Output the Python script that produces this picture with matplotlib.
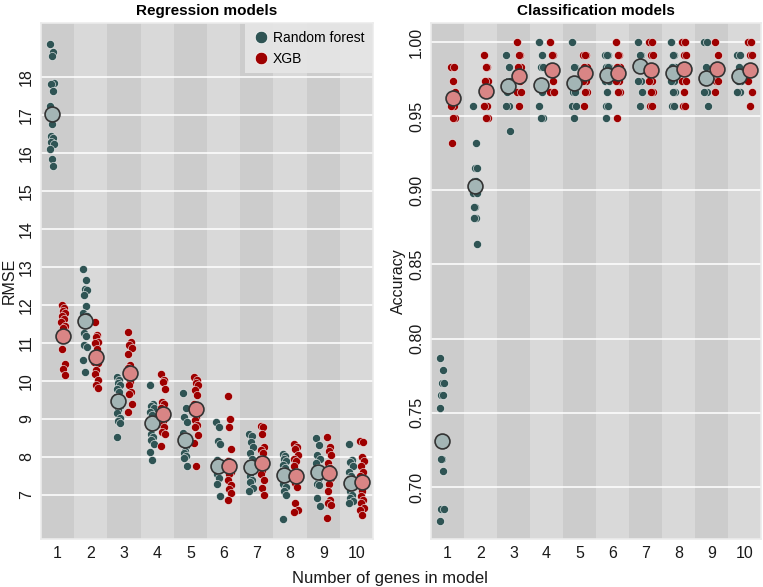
import matplotlib
matplotlib.use("Agg")
import matplotlib.pyplot as plt
from matplotlib.lines import Line2D
import numpy as np

plt.rcParams["font.family"] = ["Liberation Sans", "DejaVu Sans"]

genes = list(range(1, 11))

# RMSE per fold, by number of genes (regression models)
rmse_rf = [
    [18.88, 18.65, 18.55, 17.85, 17.82, 17.62, 17.24, 17.1, 16.75, 16.45, 16.4, 16.3, 16.24, 16.1, 15.85, 15.66],
    [12.94, 12.66, 12.42, 12.38, 12.26, 11.96, 11.8, 11.7, 11.47, 11.26, 11.18, 10.95, 10.9, 10.55, 10.24],
    [10.11, 10.03, 9.95, 9.89, 9.8, 9.72, 9.59, 9.35, 9.24, 9.15, 9.02, 8.95, 8.89, 8.53],
    [9.89, 9.4, 9.35, 9.28, 9.18, 9.1, 8.95, 8.85, 8.75, 8.6, 8.53, 8.45, 8.33, 8.12, 7.93],
    [9.68, 9.28, 9.05, 8.93, 8.62, 8.55, 8.4, 8.3, 8.15, 8.1, 8.02, 7.96, 7.77],
    [8.93, 8.8, 8.42, 8.33, 7.92, 7.85, 7.8, 7.7, 7.6, 7.55, 7.45, 7.3, 6.97],
    [8.6, 8.55, 8.38, 8.27, 8.1, 7.95, 7.85, 7.7, 7.6, 7.5, 7.4, 7.35, 7.18, 7.1],
    [8.08, 8.02, 7.95, 7.88, 7.78, 7.7, 7.62, 7.45, 7.35, 7.28, 7.2, 7.1, 7.0, 6.37],
    [8.5, 8.32, 8.05, 7.95, 7.85, 7.72, 7.55, 7.45, 7.35, 7.3, 7.25, 6.91, 6.72],
    [8.33, 7.92, 7.86, 7.75, 7.6, 7.5, 7.42, 7.3, 7.2, 7.1, 7.0, 6.92, 6.85, 6.8],
]
rmse_xgb = [
    [12.0, 11.92, 11.85, 11.78, 11.7, 11.62, 11.55, 11.45, 11.38, 10.85, 10.45, 10.32, 10.16],
    [11.56, 11.21, 11.15, 11.03, 10.99, 10.85, 10.51, 10.47, 10.29, 10.18, 10.03, 9.89, 9.81],
    [11.3, 11.02, 10.95, 10.86, 10.7, 10.42, 10.33, 10.1, 9.98, 9.9, 9.72, 9.65, 9.38, 9.19],
    [10.18, 10.02, 9.97, 9.8, 9.45, 9.38, 9.3, 9.02, 8.95, 8.85, 8.78, 8.65, 8.6, 8.28],
    [10.11, 10.03, 9.95, 9.89, 9.76, 9.63, 9.4, 9.15, 9.05, 8.97, 8.85, 8.8, 8.58, 8.36, 7.75],
    [9.6, 9.0, 8.8, 8.2, 7.9, 7.85, 7.7, 7.6, 7.55, 7.4, 7.25, 7.15, 7.05, 6.87],
    [8.82, 8.8, 8.6, 8.25, 8.18, 8.1, 7.95, 7.75, 7.62, 7.55, 7.4, 7.18, 7.0],
    [8.35, 8.27, 8.2, 8.06, 7.95, 7.9, 7.75, 7.6, 7.4, 7.32, 7.22, 6.78, 6.6, 6.56],
    [8.52, 8.25, 8.15, 8.05, 7.85, 7.7, 7.5, 7.45, 7.28, 7.1, 6.87, 6.78, 6.74, 6.39],
    [8.43, 8.38, 8.01, 7.9, 7.75, 7.6, 7.5, 7.26, 7.1, 6.96, 6.87, 6.8, 6.65, 6.6, 6.48],
]
rmse_rf_mean = [17.03, 11.57, 9.46, 8.89, 8.44, 7.75, 7.74, 7.52, 7.60, 7.32]
rmse_xgb_mean = [11.17, 10.64, 10.22, 9.13, 9.26, 7.77, 7.84, 7.51, 7.59, 7.35]

# accuracy per fold, by number of genes (classification models)
acc_rf = [
    [0.787, 0.779, 0.770, 0.770, 0.762, 0.762, 0.753, 0.728, 0.719, 0.719, 0.711, 0.685, 0.685, 0.677],
    [0.957, 0.932, 0.915, 0.915, 0.906, 0.906, 0.898, 0.898, 0.889, 0.889, 0.881, 0.881, 0.864],
    [0.991, 0.983, 0.974, 0.974, 0.966, 0.957, 0.957, 0.940],
    [1.0, 0.991, 0.983, 0.983, 0.974, 0.966, 0.957, 0.949, 0.949],
    [1.0, 0.983, 0.983, 0.974, 0.966, 0.966, 0.957, 0.957, 0.949],
    [0.991, 0.991, 0.991, 0.983, 0.983, 0.983, 0.974, 0.974, 0.966, 0.957, 0.957, 0.949],
    [1.0, 0.991, 0.991, 0.983, 0.983, 0.974, 0.974, 0.966, 0.957],
    [1.0, 0.991, 0.991, 0.983, 0.983, 0.974, 0.974, 0.966, 0.966, 0.957, 0.957],
    [1.0, 1.0, 0.983, 0.974, 0.974, 0.966, 0.966, 0.957],
    [0.991, 0.991, 0.983, 0.974, 0.974, 0.966, 0.966],
]
acc_xgb = [
    [0.983, 0.983, 0.974, 0.966, 0.957, 0.957, 0.957, 0.949, 0.949, 0.932],
    [0.991, 0.983, 0.983, 0.974, 0.974, 0.957, 0.957, 0.949, 0.949],
    [1.0, 0.991, 0.991, 0.983, 0.983, 0.974, 0.966, 0.966, 0.957],
    [1.0, 0.991, 0.991, 0.983, 0.983, 0.974, 0.966, 0.966],
    [0.991, 0.991, 0.991, 0.983, 0.983, 0.974, 0.974, 0.966, 0.966, 0.957],
    [1.0, 0.991, 0.991, 0.983, 0.983, 0.974, 0.974, 0.966, 0.966, 0.949],
    [1.0, 1.0, 0.991, 0.991, 0.983, 0.974, 0.974, 0.966, 0.966, 0.957, 0.957],
    [1.0, 1.0, 0.991, 0.991, 0.983, 0.983, 0.974, 0.974, 0.966, 0.957, 0.957],
    [1.0, 0.991, 0.983, 0.983, 0.974, 0.974, 0.966],
    [1.0, 1.0, 0.991, 0.991, 0.983, 0.983, 0.974, 0.966, 0.957],
]
acc_rf_mean = [0.731, 0.903, 0.970, 0.971, 0.9725, 0.978, 0.984, 0.979, 0.976, 0.977]
acc_xgb_mean = [0.962, 0.967, 0.977, 0.981, 0.979, 0.979, 0.981, 0.982, 0.982, 0.981]

RF_COL = "#2f5454"
XGB_COL = "#9e0000"
RF_MEAN = "#a3b5b5"
XGB_MEAN = "#d98585"
BAND_DARK = "#cccccc"
BAND_LIGHT = "#d9d9d9"
TXT = "#1a1a1a"

JIT = [-0.05, 0.03, -0.01, 0.06, -0.04, 0.02, -0.06, 0.05, 0.0, -0.03,
       0.04, -0.02, 0.06, -0.05, 0.01, 0.03, -0.04, 0.05, -0.01, 0.02]
OFF = 0.17


def draw_panel(ax, rf, xgb, rf_mean, xgb_mean):
    for g in genes:
        ax.axvspan(g - 0.5, g + 0.5, color=BAND_DARK if g % 2 else BAND_LIGHT,
                   zorder=0.2, lw=0)
    for vals, col, sign in ((rf, RF_COL, -1), (xgb, XGB_COL, 1)):
        for g, pts in zip(genes, vals):
            xs = [g + sign * OFF + JIT[i % len(JIT)] for i in range(len(pts))]
            ax.scatter(xs, pts, s=34, color=col, edgecolor="#f2f2f2",
                       linewidth=0.4, zorder=3)
    ax.scatter(np.array(genes) - OFF, rf_mean, s=115, color=RF_MEAN,
               edgecolor="#333333", linewidth=1.2, zorder=4)
    ax.scatter(np.array(genes) + OFF, xgb_mean, s=115, color=XGB_MEAN,
               edgecolor="#333333", linewidth=1.2, zorder=4)
    ax.set_xlim(0.5, 10.5)
    ax.set_xticks(genes)
    ax.yaxis.grid(True, color="white", lw=1.1)
    ax.set_axisbelow("line")
    ax.tick_params(length=0, labelsize=11.5, colors=TXT, pad=5)
    for lab in ax.get_yticklabels():
        lab.set_rotation(90)
        lab.set_va("center")
    for sp in ax.spines.values():
        sp.set_color("#ececec")
        sp.set_linewidth(1.2)


fig = plt.figure(figsize=(7.63, 5.87), dpi=100)
ax1 = fig.add_axes([41 / 763, 48 / 587, 332 / 763, 516 / 587])
ax2 = fig.add_axes([431 / 763, 48 / 587, 330 / 763, 516 / 587])

ax1.set_ylim(5.84, 19.42)
ax1.set_yticks(range(7, 19))
draw_panel(ax1, rmse_rf, rmse_xgb, rmse_rf_mean, rmse_xgb_mean)
ax1.set_ylabel("RMSE", fontsize=11.5, color=TXT, labelpad=2)
ax1.set_title("Regression models", fontsize=11, fontweight="bold", pad=6)

ax2.set_ylim(0.6649, 1.0128)
ax2.set_yticks([0.70, 0.75, 0.80, 0.85, 0.90, 0.95, 1.00])
ax2.set_yticklabels(["0.70", "0.75", "0.80", "0.85", "0.90", "0.95", "1.00"])
draw_panel(ax2, acc_rf, acc_xgb, acc_rf_mean, acc_xgb_mean)
ax2.set_ylabel("Accuracy", fontsize=11.5, color=TXT, labelpad=2)
ax2.set_title("Classification models", fontsize=11, fontweight="bold", pad=6)

handles = [
    Line2D([], [], ls="none", marker="o", ms=9, color=RF_COL, mec="white", mew=0.5),
    Line2D([], [], ls="none", marker="o", ms=9, color=XGB_COL, mec="white", mew=0.5),
]
leg = ax1.legend(handles, ["Random forest", "XGB"], loc="upper right",
                 fontsize=10, frameon=True, fancybox=False, borderaxespad=0.1,
                 handletextpad=0.25, labelspacing=0.45, borderpad=0.5,
                 handlelength=1.3)
leg.get_frame().set_facecolor("#e6e6e6")
leg.get_frame().set_edgecolor("none")
leg.get_frame().set_alpha(0.9)
leg.set_zorder(6)

fig.text(390 / 763, 9 / 587, "Number of genes in model", ha="center",
         va="center", fontsize=12, color=TXT)

fig.savefig("out.png", dpi=100)
